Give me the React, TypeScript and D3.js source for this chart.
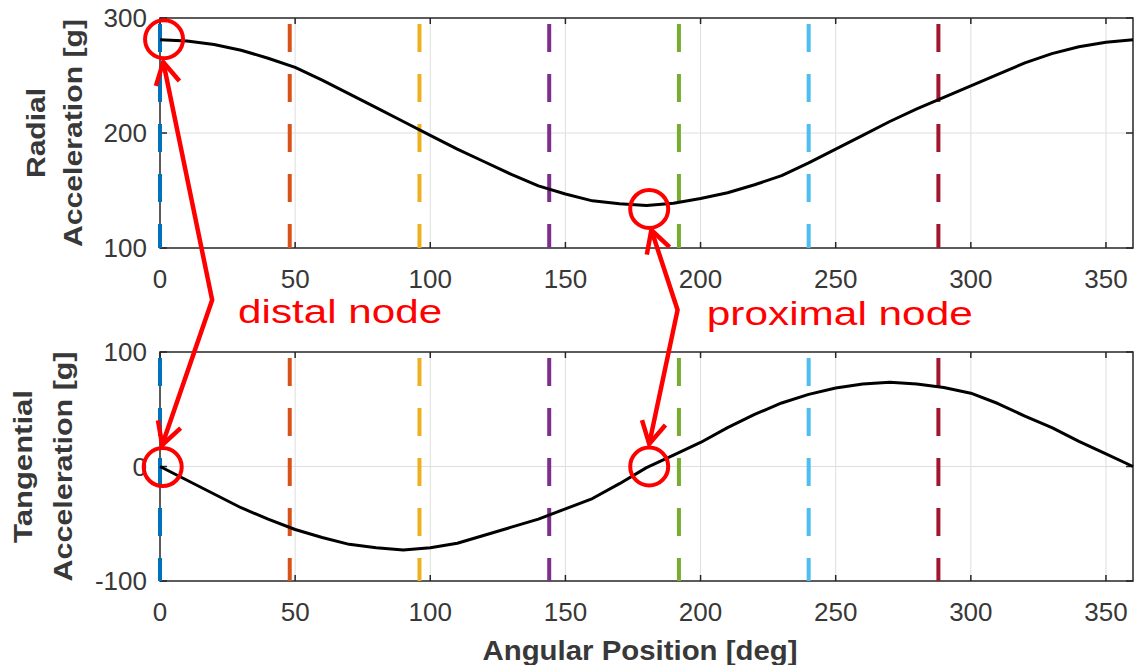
import React from 'react'
import * as d3 from 'd3'

// angular positions of the samples [deg]
const angles = [0, 10, 20, 30, 40, 50, 60, 70, 80, 90, 100, 110, 120, 130, 140, 150, 160, 170, 180,
  190, 200, 210, 220, 230, 240, 250, 260, 270, 280, 290, 300, 310, 320, 330, 340, 350, 360]

// radial acceleration [g]
const radial = [281, 280, 277, 272, 265, 257, 246, 234, 222, 210, 198, 186, 175, 164, 154, 147, 141, 138.5, 137,
  139, 143, 148, 155, 163, 174, 186, 198, 210, 221, 231, 241, 251, 261, 269, 275, 279, 281]

// tangential acceleration [g]
const tangential = [0, -12, -24, -36, -46, -55, -62, -68, -71, -73, -71, -67, -60, -53, -46, -37, -28, -15, -1,
  10, 21, 34, 45.5, 55.5, 63, 68.5, 72, 73.5, 72, 69, 64, 55, 44, 34, 22, 11, 0]

// node positions (dashed markers) and their colours
const nodeAngles = [0, 48, 96, 144, 192, 240, 288]
const nodeColors = ['#0072BD', '#D95319', '#EDB120', '#7E2F8E', '#77AC30', '#4DBEEE', '#A2142F']

const xTicks = [0, 50, 100, 150, 200, 250, 300, 350]
const yTicksTop = [100, 200, 300]
const yTicksBottom = [-100, 0, 100]

const FONT = '"Liberation Sans", Arial, Helvetica, sans-serif'
const AXIS = '#262626'
const RED = '#ff0000'

const x = d3.scaleLinear().domain([0, 360]).range([160, 1133])
const yTop = d3.scaleLinear().domain([100, 300]).range([248, 18])
const yBot = d3.scaleLinear().domain([-100, 100]).range([581, 352])

const Panel = ({ y, ticks, values, labels, labelX, labelLens }) => {
  const [y0, y1] = y.range()
  const line = d3.line().x((d, i) => x(angles[i])).y(d => y(d))
  const midY = (y0 + y1) / 2
  return (
    <g>
      {/* grid */}
      {xTicks.filter(t => t > 0).map(t => (
        <line key={'gx' + t} x1={x(t)} x2={x(t)} y1={y1} y2={y0} stroke="#dedede" strokeWidth={1} />
      ))}
      {ticks.slice(1, -1).map(t => (
        <line key={'gy' + t} x1={x(0)} x2={x(360)} y1={y(t)} y2={y(t)} stroke="#dedede" strokeWidth={1} />
      ))}
      {/* box + ticks */}
      <rect x={x(0)} y={y1} width={x(360) - x(0)} height={y0 - y1} fill="none" stroke={AXIS} strokeWidth={1.5} />
      {xTicks.map(t => (
        <g key={'tx' + t}>
          <line x1={x(t)} x2={x(t)} y1={y0} y2={y0 - 6} stroke={AXIS} strokeWidth={1.5} />
          <line x1={x(t)} x2={x(t)} y1={y1} y2={y1 + 6} stroke={AXIS} strokeWidth={1.5} />
          <text x={x(t)} y={y0 + 40} textAnchor="middle" fontSize={26} fill="#383838" fontFamily={FONT}>{t}</text>
        </g>
      ))}
      {ticks.map(t => (
        <g key={'ty' + t}>
          <line x1={x(0)} x2={x(0) + 7} y1={y(t)} y2={y(t)} stroke={AXIS} strokeWidth={1.5} />
          <line x1={x(360)} x2={x(360) - 7} y1={y(t)} y2={y(t)} stroke={AXIS} strokeWidth={1.5} />
          <text x={147} y={y(t)} dy="0.36em" textAnchor="end" fontSize={26} fill="#383838" fontFamily={FONT}>{t}</text>
        </g>
      ))}
      {/* node markers */}
      {nodeAngles.map((a, i) => (
        <line key={'n' + a} x1={x(a)} x2={x(a)} y1={y1} y2={y0} stroke={nodeColors[i]} strokeWidth={4}
          strokeDasharray="28 22" strokeDashoffset={44} />
      ))}
      <path d={line(values)} fill="none" stroke="#000" strokeWidth={3} strokeLinejoin="round" />
      {labels.map((l, i) => (
        <text key={l} transform={`translate(${labelX[i]},${midY}) rotate(-90)`} textAnchor="middle"
          fontSize={25} fontWeight="bold" fill="#383838" fontFamily={FONT}
          textLength={labelLens[i]} lengthAdjust="spacingAndGlyphs">{l}</text>
      ))}
    </g>
  )
}

// red annotations: circles in data units, arrows from a bend point to two circles
const circles = [
  { y: yTop, a: 1.5, v: 281.5 },
  { y: yTop, a: 181, v: 134 },
  { y: yBot, a: 1, v: -0.5 },
  { y: yBot, a: 181, v: 0 },
]
const arrows = [
  { bend: [19.3, 300], top: [1.2, 62], bottom: [0.8, 445] },
  { bend: [191.5, 310], top: [181.8, 230], bottom: [181, 444] },
]
const notes = [
  { text: 'distal node', a: 28.9, base: 323, len: 204 },
  { text: 'proximal node', a: 202.3, base: 325, len: 266 },
]

const head = (tip, from) => {
  const dx = from[0] - tip[0]
  const dy = from[1] - tip[1]
  const ang = Math.atan2(dy, dx)
  const L = 25
  const s = 0.5
  const p1 = [tip[0] + L * Math.cos(ang + s), tip[1] + L * Math.sin(ang + s)]
  const p2 = [tip[0] + L * Math.cos(ang - s), tip[1] + L * Math.sin(ang - s)]
  return `M${p1[0]},${p1[1]}L${tip[0]},${tip[1]}L${p2[0]},${p2[1]}`
}

export default function App() {
  return (
    <svg width={1135} height={665} style={{ position: 'absolute', left: 0, top: 0, background: '#fff' }}>
      <rect width={1135} height={665} fill="#fff" />
      <Panel y={yTop} ticks={yTicksTop} values={radial} labels={['Radial', 'Acceleration [g]']}
        labelX={[45, 82]} labelLens={[90, 228]} />
      <Panel y={yBot} ticks={yTicksBottom} values={tangential} labels={['Tangential', 'Acceleration [g]']}
        labelX={[32, 72]} labelLens={[153, 230]} />
      <text x={640} y={660} textAnchor="middle" fontSize={28} fontWeight="bold" fill="#383838" fontFamily={FONT}
        textLength={315} lengthAdjust="spacingAndGlyphs">Angular Position [deg]</text>

      {circles.map((c, i) => (
        <circle key={i} cx={x(c.a)} cy={c.y(c.v)} r={19} fill="none" stroke={RED} strokeWidth={4} />
      ))}
      {arrows.map((a, i) => {
        const b = [x(a.bend[0]), a.bend[1]]
        const t = [x(a.top[0]), a.top[1]]
        const u = [x(a.bottom[0]), a.bottom[1]]
        return (
          <g key={i} fill="none" stroke={RED} strokeWidth={4.5} strokeLinejoin="miter" strokeLinecap="butt">
            <path d={`M${t[0]},${t[1]}L${b[0]},${b[1]}L${u[0]},${u[1]}`} />
            <path d={head(t, b)} />
            <path d={head(u, b)} />
          </g>
        )
      })}
      {notes.map(n => (
        <text key={n.text} x={x(n.a)} y={n.base} fontSize={33} fill={RED} fontFamily={FONT}
          textLength={n.len} lengthAdjust="spacingAndGlyphs">{n.text}</text>
      ))}
    </svg>
  )
}
